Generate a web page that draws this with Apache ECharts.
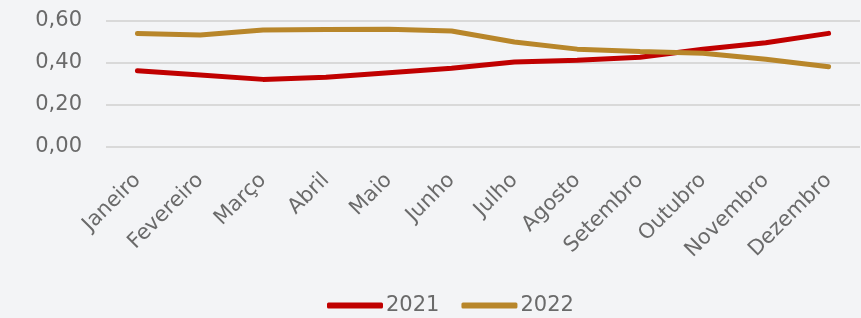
<!DOCTYPE html>
<html>
<head>
<meta charset="utf-8">
<script src="https://cdn.jsdelivr.net/npm/echarts@6/dist/echarts.min.js"></script>
<style>
  html, body { margin: 0; padding: 0; background: #f3f4f6; }
  #chart { width: 861px; height: 318px; }
</style>
</head>
<body>
<div id="chart"></div>
<script>
const months = ['Janeiro', 'Fevereiro', 'Março', 'Abril', 'Maio', 'Junho', 'Julho', 'Agosto', 'Setembro', 'Outubro', 'Novembro', 'Dezembro'];
const values2021 = [0.363, 0.343, 0.322, 0.332, 0.354, 0.375, 0.405, 0.413, 0.427, 0.465, 0.496, 0.541];
const values2022 = [0.541, 0.533, 0.557, 0.560, 0.561, 0.552, 0.500, 0.466, 0.455, 0.446, 0.418, 0.382];

// thin grey text in the original, lighter colour compensates for DejaVu's weight
const textColor = '#6a6a6a';
const font = 'DejaVu Sans';

const chart = echarts.init(document.getElementById('chart'), null, { renderer: 'canvas' });

chart.setOption({
  backgroundColor: '#f3f4f6',
  animation: false,
  grid: { left: 106, right: 1, top: 21, bottom: 171, containLabel: false },
  legend: {
    top: 295,
    left: 327,
    padding: 0,
    itemWidth: 56,
    itemHeight: 6,
    itemGap: 22,
    icon: 'roundRect',
    textStyle: { color: textColor, fontSize: 21, fontFamily: font, padding: [0, 0, 0, -2] },
    data: ['2021', '2022'],
  },
  xAxis: {
    type: 'category',
    data: months,
    boundaryGap: true,
    axisLine: { show: false },
    axisTick: { show: false },
    axisLabel: {
      rotate: 45,
      interval: 0,
      margin: 30,
      color: textColor,
      fontSize: 21,
      fontFamily: font,
    },
  },
  yAxis: {
    type: 'value',
    min: 0,
    max: 0.6,
    interval: 0.2,
    axisLine: { show: false },
    axisTick: { show: false },
    splitLine: { lineStyle: { color: '#d9d9d9', width: 2 } },
    axisLabel: {
      margin: 24,
      color: textColor,
      fontSize: 21,
      fontFamily: font,
      formatter: v => v.toFixed(2).replace('.', ','),
    },
  },
  series: [
    {
      name: '2021',
      type: 'line',
      data: values2021,
      symbol: 'none',
      lineStyle: { color: '#c00000', width: 5, cap: 'round' },
      itemStyle: { color: '#c00000' },
    },
    {
      name: '2022',
      type: 'line',
      data: values2022,
      symbol: 'none',
      lineStyle: { color: '#b8862a', width: 5, cap: 'round' },
      itemStyle: { color: '#b8862a' },
    },
  ],
});
</script>
</body>
</html>
